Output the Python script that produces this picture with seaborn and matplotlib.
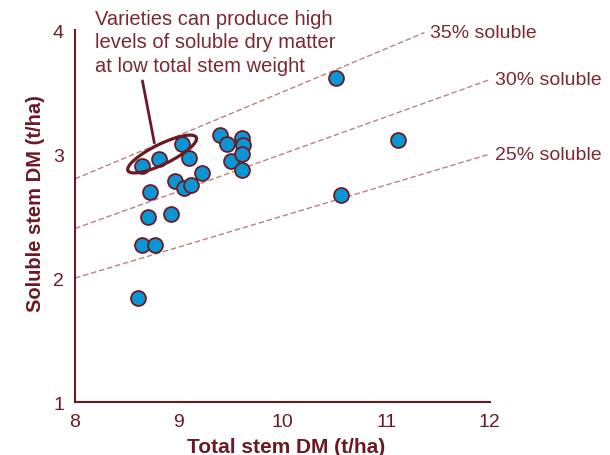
import matplotlib
matplotlib.use("Agg")
import matplotlib.pyplot as plt
import seaborn as sns
import pandas as pd
import numpy as np
from matplotlib.patches import Ellipse
from matplotlib.transforms import ScaledTranslation

# значения точек (t/ha)
total_dm = [10.52, 11.11, 10.56, 8.61, 8.65, 8.77, 8.70, 8.72, 8.65, 8.81,
            9.03, 9.10, 8.96, 8.93, 9.05, 9.12, 9.22, 9.40, 9.47, 9.50,
            9.61, 9.62, 9.61, 9.61]
soluble_dm = [3.61, 3.11, 2.67, 1.84, 2.27, 2.27, 2.49, 2.69, 2.90, 2.96,
              3.08, 2.97, 2.78, 2.52, 2.73, 2.75, 2.85, 3.15, 3.08, 2.94,
              3.13, 3.07, 3.00, 2.87]

# линии доли растворимого сухого вещества
soluble_pcts = [0.35, 0.30, 0.25]
line_ends = [11.37, 12.0, 12.0]
line_labels = ["35% soluble", "30% soluble", "25% soluble"]

note = "Varieties can produce high\nlevels of soluble dry matter\nat low total stem weight"

MAROON = "#6b1a24"
TEXT = "#7a2832"
BLUE = "#0a96d4"
DASH = "#b58481"

sns.set_style("white")
plt.rcParams["font.family"] = ["Liberation Sans", "DejaVu Sans"]

df = pd.DataFrame({"total": total_dm, "soluble": soluble_dm})

fig = plt.figure(figsize=(6.1, 4.56), dpi=100)
ax = fig.add_axes([0.123, 0.116, 0.68, 0.816])

for pct, x_end, lab in zip(soluble_pcts, line_ends, line_labels):
    xs = np.array([8.0, x_end])
    ax.plot(xs, pct * xs, ls=(0, (4, 2)), color=DASH, lw=1.0, zorder=1, clip_on=False)
    ax.text(x_end + 0.05, pct * x_end, lab, color=TEXT, fontsize=14,
            ha="left", va="center", clip_on=False)

sns.scatterplot(data=df, x="total", y="soluble", ax=ax, s=115, color=BLUE,
                edgecolor=MAROON, linewidth=1.3, zorder=3, clip_on=False)

# выделение и выноска
ell = Ellipse((0, 0), width=0.76, height=0.2, angle=26, fill=False,
              edgecolor=MAROON, lw=2.3, zorder=4,
              transform=fig.dpi_scale_trans + ScaledTranslation(8.84, 3.0, ax.transData))
ax.add_patch(ell)
ax.plot([8.65, 8.765], [3.59, 3.09], color=MAROON, lw=2.0, zorder=4, clip_on=False)
ax.text(8.19, 4.17, note, color=TEXT, fontsize=14.5, ha="left", va="top",
        linespacing=1.3, clip_on=False)

ax.set_xlim(8, 12)
ax.set_ylim(1, 4)
ax.set_xticks([8, 9, 10, 11, 12])
ax.set_yticks([1, 2, 3, 4])
ax.set_xlabel("Total stem DM (t/ha)", fontsize=15, fontweight="bold", color=MAROON, labelpad=5)
ax.set_ylabel("Soluble stem DM (t/ha)", fontsize=14.5, fontweight="bold", color=MAROON, labelpad=6)
ax.xaxis.label.set_x(0.51)
ax.yaxis.label.set_y(0.535)
ax.tick_params(direction="in", length=7, width=1.3, color=MAROON, labelcolor=MAROON,
               labelsize=14, pad=8)
for side in ["top", "right"]:
    ax.spines[side].set_visible(False)
for side in ["left", "bottom"]:
    ax.spines[side].set_color(MAROON)
    ax.spines[side].set_linewidth(1.5)

plt.savefig("out.png", dpi=100)
